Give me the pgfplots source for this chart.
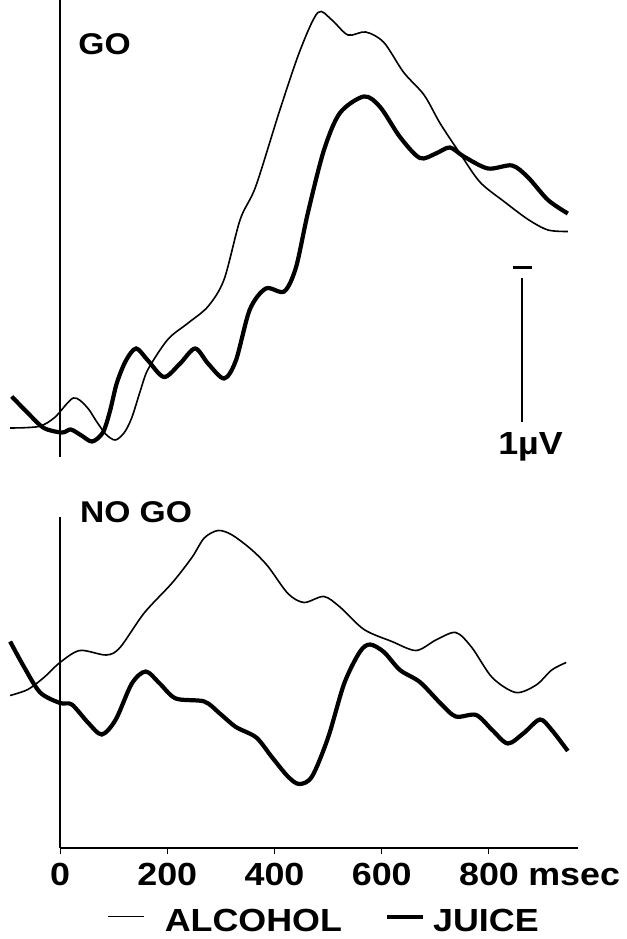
\documentclass[border=0pt]{standalone}
\usepackage{fontspec}
\setmainfont{Liberation Sans}[FakeStretch=1.12]
\usepackage{pgfplots}
\pgfplotsset{compat=1.18}
\newcommand{\lab}{\fontsize{32bp}{36bp}\selectfont\bfseries}
\newcommand{\glab}{\fontsize{30bp}{34bp}\selectfont\bfseries}
\begin{document}
\begin{tikzpicture}
\path[use as bounding box] (0bp,0bp) rectangle (627bp,939bp);
% ---------------- GO ----------------
\begin{axis}[at={(60bp,482bp)}, anchor=south west, scale only axis,
  width=518bp, height=457bp, xmin=0, xmax=966, ymin=-0.1933, ymax=2.8533,
  axis x line=none, axis y line=left, axis line style={-, line width=1.3bp},
  ytick=\empty, xtick=\empty, clip=false]
\addplot[black, line width=1.6bp, smooth] coordinates {
(-93,0.0)(-40,0.01)(-10,0.07)(25,0.20)(50,0.14)(67,0.05)(85,-0.04)(103,-0.08)(120,-0.03)(134,0.07)(150,0.25)(164,0.39)(201,0.59)(239,0.70)(276,0.81)(306,0.99)(336,1.39)(365,1.61)(410,2.12)(448,2.52)(481,2.77)(507,2.72)(537,2.62)(570,2.64)(604,2.57)(641,2.37)(679,2.22)(709,2.03)(746,1.83)(783,1.64)(828,1.51)(873,1.39)(910,1.32)(947,1.31)};
\addplot[black, line width=4.2bp, smooth] coordinates {
(-90,0.21)(-60,0.10)(-30,0.0)(4,-0.03)(20,-0.01)(40,-0.05)(60,-0.09)(80,-0.03)(93,0.11)(106,0.30)(123,0.45)(142,0.53)(164,0.45)(194,0.34)(224,0.43)(252,0.53)(276,0.43)(306,0.33)(328,0.45)(354,0.79)(384,0.93)(418,0.91)(440,1.07)(462,1.43)(492,1.85)(522,2.10)(567,2.21)(597,2.14)(634,1.94)(671,1.80)(701,1.83)(727,1.87)(753,1.81)(798,1.73)(843,1.75)(873,1.67)(910,1.52)(947,1.43)};
% scale bar (1 microvolt)
\addplot[black, line width=1.7bp] coordinates {(861,0.04)(861,1.0)};
\addplot[black, line width=3bp] coordinates {(845,1.067)(880,1.067)};
\node[font=\glab, anchor=base west, inner sep=0pt] at (axis cs:34,2.487) {GO};
\node[font=\lab, anchor=base west, inner sep=0pt] at (axis cs:817,-0.18) {1µV};
\end{axis}
% ---------------- NO GO ----------------
\begin{axis}[at={(60bp,91bp)}, anchor=south west, scale only axis,
  width=518bp, height=331bp, xmin=0, xmax=966, ymin=-0.9867, ymax=1.22,
  axis x line=bottom, axis y line=left, axis line style={-},
  x axis line style={line width=1.8bp}, y axis line style={line width=1.3bp},
  ytick=\empty, xtick={0,200,400,600,800}, xticklabels={0,200,400,600,800},
  tick align=outside, major tick length=6bp, tick style={black, line width=1bp},
  xticklabel style={font=\lab, inner sep=0pt, anchor=north, yshift=-9bp},
  /pgf/number format/assume math mode=true,
  clip=false,
  legend style={at={(axis description cs:0.0907,-0.221)}, anchor=west, draw=none, fill=none,
    legend columns=2, inner sep=0pt, nodes={inner sep=0pt, font=\lab},
    /tikz/every even column/.append style={column sep=43bp},
    /tikz/every odd column/.append style={column sep=8bp}},
  legend image code/.code={\draw[#1] (0bp,4.5bp)--(36bp,4.5bp);}]
\addplot[black, line width=1.6bp, smooth] coordinates {
(-93,0.03)(-60,0.07)(-30,0.15)(0,0.25)(37,0.33)(86,0.30)(112,0.35)(157,0.58)(209,0.78)(246,0.95)(269,1.08)(295,1.13)(321,1.10)(358,1.00)(388,0.89)(425,0.71)(455,0.65)(492,0.69)(522,0.62)(567,0.47)(619,0.39)(664,0.33)(701,0.40)(738,0.45)(768,0.35)(806,0.15)(850,0.05)(888,0.10)(917,0.20)(944,0.25)};
\addlegendentry{\hspace{12bp}ALCOHOL}
\addplot[black, line width=4.2bp, smooth] coordinates {
(-93,0.39)(-67,0.22)(-37,0.05)(0,-0.02)(22,-0.03)(52,-0.15)(78,-0.23)(104,-0.13)(134,0.11)(160,0.19)(186,0.11)(216,0.01)(269,-0.01)(298,-0.09)(328,-0.18)(366,-0.25)(395,-0.38)(425,-0.51)(446,-0.56)(470,-0.51)(500,-0.25)(530,0.11)(559,0.32)(578,0.37)(604,0.32)(634,0.20)(671,0.12)(709,-0.02)(738,-0.11)(776,-0.10)(806,-0.20)(835,-0.29)(865,-0.22)(895,-0.13)(917,-0.20)(947,-0.34)};
\addlegendentry{JUICE}
\node[font=\glab, anchor=base west, inner sep=0pt] at (axis cs:37,1.18) {NO GO};
\node[font=\lab, anchor=base west, inner sep=0pt] at (axis cs:873,-1.24) {msec};
\end{axis}
\end{tikzpicture}
\end{document}
